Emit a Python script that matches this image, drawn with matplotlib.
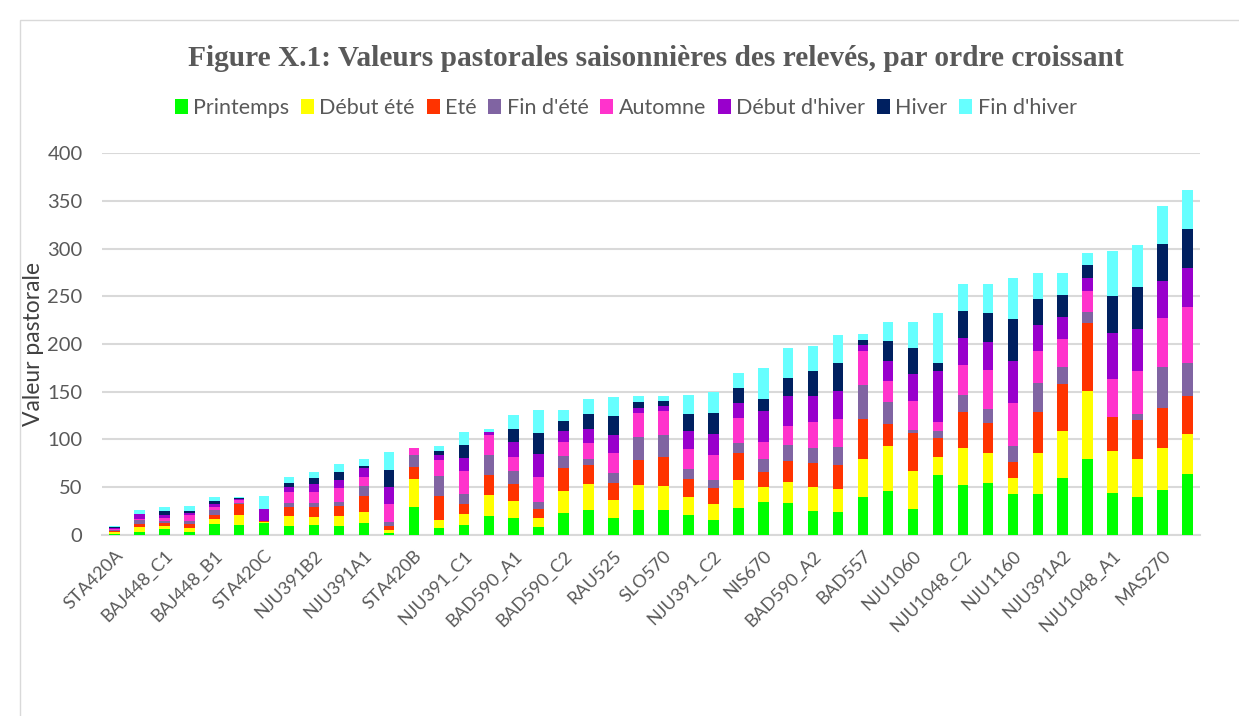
import numpy as np
import matplotlib.pyplot as plt
from matplotlib.patches import Rectangle

# relevés, triés par valeur pastorale totale croissante (1 nom sur 2 affiché)
labels = ['STA420A', 'BAJ448_C1', 'BAJ448_B1', 'STA420C', 'NJU391B2', 'NJU391A1',
          'STA420B', 'NJU391_C1', 'BAD590_A1', 'BAD590_C2', 'RAU525', 'SLO570',
          'NJU391_C2', 'NIS670', 'BAD590_A2', 'BAD557', 'NJU1060', 'NJU1048_C2',
          'NJU1160', 'NJU391A2', 'NJU1048_A1', 'MAS270']

seasons = ['Printemps', 'Début été', 'Eté', "Fin d'été", 'Automne',
           "Début d'hiver", 'Hiver', "Fin d'hiver"]
colors = ['#00FF00', '#FFFF00', '#FF3300', '#8064A2', '#FF33CC',
          '#9900CC', '#002060', '#66FFFF']

printemps = [1.4, 3.1, 6.5, 3.1, 11.9, 10.5, 12.9, 9.4, 10.5, 9.4, 12.6, 2.4, 29.0, 7.7,
             10.5, 19.9, 18.2, 8.7, 23.4, 26.2, 18.2, 26.6, 25.9, 21.3, 16.1, 28.3, 34.9,
             33.5, 25.2, 24.5, 39.8, 46.1, 27.3, 62.9, 52.4, 54.9, 42.6, 42.6, 59.4, 79.7,
             43.7, 39.5, 47.5, 64.3]
debut_ete = [1.7, 4.9, 3.0, 4.2, 4.5, 10.5, 1.0, 10.5, 8.7, 10.5, 11.5, 2.8, 30.0, 7.7,
             11.5, 22.0, 17.8, 9.4, 23.1, 26.9, 18.2, 25.5, 25.9, 18.9, 16.4, 29.0, 15.7,
             22.4, 25.2, 23.8, 40.2, 47.2, 39.8, 18.9, 39.1, 31.1, 17.1, 43.3, 49.3, 70.9,
             44.4, 40.2, 43.3, 41.2]
ete = [1.0, 3.5, 3.0, 3.8, 4.5, 11.2, 0.7, 9.8, 10.5, 10.1, 16.4, 4.5, 12.6, 25.5,
       10.8, 21.3, 17.8, 9.1, 23.8, 20.6, 17.8, 26.9, 29.4, 18.9, 16.4, 29.0, 15.7,
       22.0, 25.5, 24.5, 41.2, 22.7, 40.2, 19.6, 37.4, 31.1, 16.8, 43.3, 48.9, 70.9,
       35.6, 40.2, 42.3, 40.2]
fin_ete = [1.0, 4.5, 2.0, 3.8, 4.9, 1.7, 0.0, 4.2, 4.2, 4.9, 10.5, 4.2, 12.6, 21.3,
           10.5, 20.3, 13.3, 7.7, 12.6, 6.3, 10.8, 23.8, 23.4, 10.5, 8.4, 10.5, 13.6,
           16.1, 15.7, 19.2, 35.6, 23.1, 2.8, 7.7, 17.5, 14.7, 16.8, 29.7, 18.5, 12.2,
           0.0, 7.3, 43.0, 34.6]
automne = [1.4, 1.0, 3.0, 5.6, 3.8, 2.4, 0.0, 10.8, 10.8, 14.0, 9.8, 18.2, 7.0, 16.1,
           23.8, 21.3, 14.7, 26.2, 14.7, 16.1, 20.6, 24.5, 24.8, 20.6, 26.6, 26.2, 17.8,
           20.6, 26.9, 29.7, 36.0, 22.4, 30.4, 9.4, 31.8, 40.5, 45.4, 34.2, 29.4, 21.7,
           39.5, 44.4, 50.7, 58.4]
debut_hiver = [1.0, 4.5, 3.0, 2.4, 2.8, 1.7, 12.9, 5.2, 8.4, 8.4, 9.1, 18.2, 0.0, 5.2,
               13.3, 3.5, 15.4, 23.4, 11.2, 15.0, 19.6, 5.6, 5.2, 18.5, 21.7, 15.7, 32.5,
               31.1, 26.6, 29.0, 5.9, 20.6, 28.0, 53.1, 28.0, 30.0, 43.3, 27.3, 23.1, 13.3,
               47.9, 44.0, 39.1, 40.9]
hiver = [0.4, 0.0, 5.0, 2.1, 3.5, 0.5, 0.0, 4.9, 6.6, 8.7, 2.8, 17.8, 0.0, 4.5,
         14.0, 0.0, 13.6, 22.7, 10.8, 15.4, 19.6, 5.9, 5.2, 18.5, 22.4, 15.4, 11.9,
         19.2, 26.2, 29.4, 5.9, 20.6, 27.6, 8.7, 28.0, 30.0, 43.7, 26.6, 23.1, 13.6,
         39.1, 44.0, 39.1, 40.9]
fin_hiver = [1.4, 4.5, 3.5, 5.2, 4.2, 1.4, 12.9, 5.6, 6.3, 8.7, 7.3, 19.2, 0.0, 5.2,
             13.6, 3.1, 15.0, 23.4, 11.5, 15.7, 19.9, 6.3, 5.9, 19.2, 22.0, 15.7, 32.8,
             31.1, 26.6, 29.7, 6.3, 20.6, 27.3, 52.4, 28.3, 30.4, 43.3, 26.9, 23.1, 13.3,
             47.5, 44.4, 39.5, 40.9]

series = [printemps, debut_ete, ete, fin_ete, automne, debut_hiver, hiver, fin_hiver]
x = np.arange(len(printemps))

fig = plt.figure(figsize=(12.39, 7.16), dpi=100)
ax = fig.add_axes([0.0823, 0.2528, 0.8862, 0.5335])

# cadre du graphique
fig.patches.append(Rectangle((20 / 1239, -0.01), 1.0, 1 - 20 / 716 + 0.01,
                             transform=fig.transFigure, fill=False,
                             edgecolor='#D9D9D9', linewidth=1))

bottom = np.zeros(len(x))
for vals, name, col in zip(series, seasons, colors):
    vals = np.array(vals)
    ax.bar(x, vals, 0.42, bottom=bottom, color=col, label=name, zorder=3)
    bottom += vals

ax.set_xlim(-0.5, len(x) - 0.5)
ax.set_ylim(0, 400)
ax.set_yticks(np.arange(0, 401, 50))
ax.grid(axis='y', color='#D9D9D9', linewidth=1.5, zorder=0)
for s in ['top', 'right', 'left']:
    ax.spines[s].set_visible(False)
ax.spines['bottom'].set_color('#D9D9D9')
ax.spines['bottom'].set_linewidth(1.5)
ax.tick_params(axis='both', length=0, labelcolor='#595959')
ax.tick_params(axis='y', pad=14, labelsize=14.5)
ax.tick_params(axis='x', pad=9)
for t in ax.get_yticklabels():
    t.set_fontfamily('Lato')

ax.set_xticks(x[::2])
ax.set_xticklabels(labels, rotation=45, ha='right', rotation_mode='anchor',
                   fontsize=13, color='#595959', family='Lato')
ax.set_ylabel('Valeur pastorale', fontsize=16.5, color='#404040', family='Lato', labelpad=2)

fig.text(0.529, 0.918, 'Figure X.1: Valeurs pastorales saisonnières des relevés, par ordre croissant',
         ha='center', va='center', fontsize=21.2, fontweight='bold',
         family='Liberation Serif', color='#595959')

leg = fig.legend(loc='center', bbox_to_anchor=(0.505, 0.849), ncol=8, frameon=False,
                 handlelength=0.6, handleheight=0.7, handletextpad=0.25, columnspacing=0.55,
                 prop={'family': 'Lato', 'size': 15.5})
for t in leg.get_texts():
    t.set_color('#595959')

fig.savefig('out.png', dpi=100)
